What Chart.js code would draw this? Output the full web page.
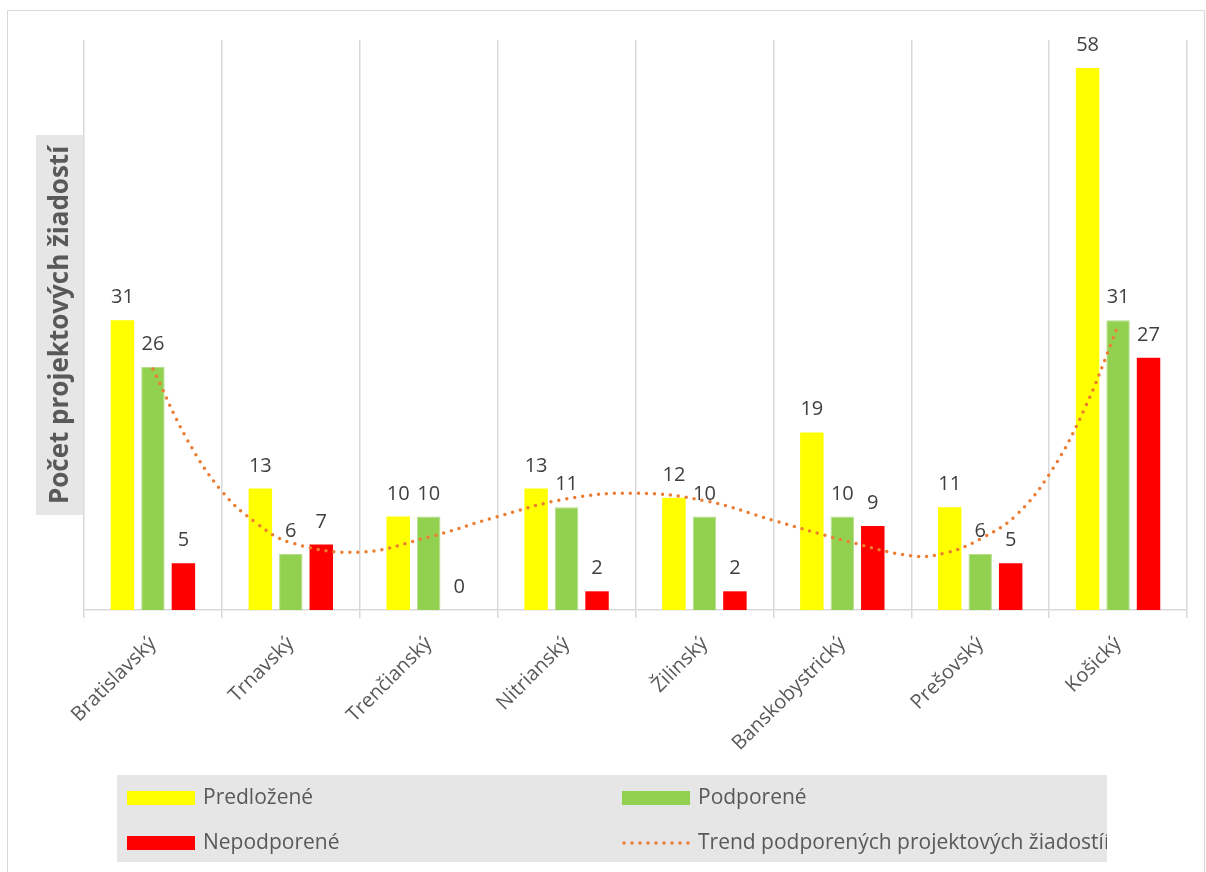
<!DOCTYPE html>
<html>
<head>
<meta charset="utf-8">
<script src="https://cdn.jsdelivr.net/npm/chart.js@4.4.0/dist/chart.umd.min.js"></script>
<style>
  html, body { margin: 0; padding: 0; background: #fff; }
  #frame { position: absolute; left: 7px; top: 10px; width: 1198px; height: 870px; border: 1px solid #d9d9d9; box-sizing: border-box; }
  #wrap { position: absolute; left: 0; top: 0; width: 1206px; height: 872px; }
</style>
</head>
<body>
<div id="frame"></div>
<div id="wrap"><canvas id="chart"></canvas></div>
<script>
// data
var kraje = ['Bratislavský', 'Trnavský', 'Trenčianský', 'Nitrianský', 'Žilinský', 'Banskobystrický', 'Prešovský', 'Košický'];
var predlozene = [31, 13, 10, 13, 12, 19, 11, 58];
var podporene = [26, 6, 10, 11, 10, 10, 6, 31];
var nepodporene = [5, 7, 0, 2, 2, 9, 5, 27];

// trend line (estimated from the dotted curve), x = category index
var trendX = [0, 0.25, 0.5, 0.75, 1, 1.5, 2, 2.5, 3, 3.5, 4, 4.5, 5, 5.5, 5.75, 6, 6.25, 6.5, 6.75, 7];
var trendY = [25.8, 18.2, 12.7, 9.3, 7.2, 6.2, 7.8, 10.0, 11.9, 12.5, 11.7, 9.6, 7.5, 5.8, 6.1, 7.6, 10.0, 14.5, 21.3, 30.4];

var nazvy = ['Predložené', 'Podporené', 'Nepodporené', 'Trend podporených projektových žiadostíí'];
var farby = ['#ffff00', '#92d050', '#ff0000', '#ed7d31'];

Chart.defaults.font.family = "'Open Sans', sans-serif";

// bars and trend share one hidden linear x scale (index 0..7),
// the category axis only draws the labels and grid
function body(arr) {
  return arr.map(function(v, i) { return { x: i, y: v }; });
}
var trendPoints = trendX.map(function(v, i) { return { x: v, y: trendY[i] }; });

var valueLabels = {
  id: 'valueLabels',
  afterDatasetsDraw: function(chart) {
    var ctx = chart.ctx;
    ctx.save();
    ctx.font = '20px "Open Sans"';
    ctx.fillStyle = '#404040';
    ctx.textAlign = 'center';
    ctx.textBaseline = 'alphabetic';
    chart.data.datasets.forEach(function(ds, i) {
      if (ds.type === 'line') return;
      var meta = chart.getDatasetMeta(i);
      meta.data.forEach(function(bar, j) {
        ctx.fillText(ds.data[j].y, bar.x, bar.y - 17);
      });
    });
    ctx.restore();
  }
};

var yTitle = {
  id: 'yTitle',
  afterDraw: function(chart) {
    var ctx = chart.ctx;
    ctx.save();
    ctx.fillStyle = '#e7e6e6';
    ctx.fillRect(36, 135, 47, 380);
    ctx.translate(61, 325);
    ctx.rotate(-Math.PI / 2);
    ctx.font = 'bold 26px "Open Sans"';
    ctx.fillStyle = '#595959';
    ctx.textAlign = 'center';
    ctx.textBaseline = 'middle';
    ctx.fillText('Počet projektových žiadostí', 0, 0);
    ctx.restore();
  }
};

var legendBox = {
  id: 'legendBox',
  afterDraw: function(chart) {
    var ctx = chart.ctx;
    ctx.save();
    ctx.fillStyle = '#e7e6e6';
    ctx.fillRect(117, 775, 990, 87);
    ctx.beginPath();
    ctx.rect(117, 775, 990, 87);
    ctx.clip();
    var cols = [127, 622];
    var rows = [798, 843];
    ctx.font = '21px "Open Sans"';
    ctx.textBaseline = 'middle';
    ctx.textAlign = 'left';
    for (var i = 0; i < 4; i++) {
      var x = cols[i % 2];
      var y = rows[Math.floor(i / 2)];
      if (i < 3) {
        ctx.fillStyle = farby[i];
        ctx.fillRect(x, y - 7, 68, 14);
      } else {
        ctx.strokeStyle = farby[3];
        ctx.lineWidth = 3.5;
        ctx.lineCap = 'round';
        ctx.setLineDash([0, 8]);
        ctx.beginPath();
        ctx.moveTo(x + 2, y);
        ctx.lineTo(x + 68, y);
        ctx.stroke();
        ctx.setLineDash([]);
      }
      ctx.fillStyle = '#595959';
      ctx.fillText(nazvy[i], x + 76, y);
    }
    ctx.restore();
  }
};

// line first in the list so it is drawn on top of the bars
new Chart(document.getElementById('chart'), {
  type: 'bar',
  data: {
    labels: kraje,
    datasets: [
      { type: 'line', label: nazvy[3], data: trendPoints, xAxisID: 'xt', yAxisID: 'y',
        borderColor: farby[3], borderWidth: 3.5, borderDash: [0, 8], borderCapStyle: 'round',
        pointRadius: 0, tension: 0.4, fill: false },
      { label: nazvy[0], data: body(predlozene), backgroundColor: farby[0], xAxisID: 'xt', yAxisID: 'y',
        categoryPercentage: 0.663, barPercentage: 0.77 },
      { label: nazvy[1], data: body(podporene), backgroundColor: farby[1], borderColor: '#b4df8e', borderWidth: 1,
        xAxisID: 'xt', yAxisID: 'y', categoryPercentage: 0.663, barPercentage: 0.77 },
      { label: nazvy[2], data: body(nepodporene), backgroundColor: farby[2], xAxisID: 'xt', yAxisID: 'y',
        categoryPercentage: 0.663, barPercentage: 0.77 }
    ]
  },
  options: {
    responsive: true,
    maintainAspectRatio: false,
    animation: false,
    layout: { padding: { left: 84, right: 19, top: 40, bottom: 102 } },
    plugins: {
      legend: { display: false },
      tooltip: { enabled: false },
      title: { display: false }
    },
    scales: {
      x: {
        type: 'category',
        offset: true,
        grid: { offset: true, color: '#d9d9d9', lineWidth: 1.5, tickLength: 8 },
        border: { color: '#d9d9d9', width: 1.5 },
        ticks: { color: '#595959', font: { size: 20 }, minRotation: 45, maxRotation: 45, padding: 14 },
        afterFit: function(s) { s.height = 160; }
      },
      xt: { type: 'linear', display: false, offset: false, min: -0.5, max: 7.5,
        afterBuildTicks: function(s) { s.ticks = []; } },
      y: { display: false, min: 0, max: 61 }
    }
  },
  plugins: [valueLabels, yTitle, legendBox]
});
</script>
</body>
</html>
